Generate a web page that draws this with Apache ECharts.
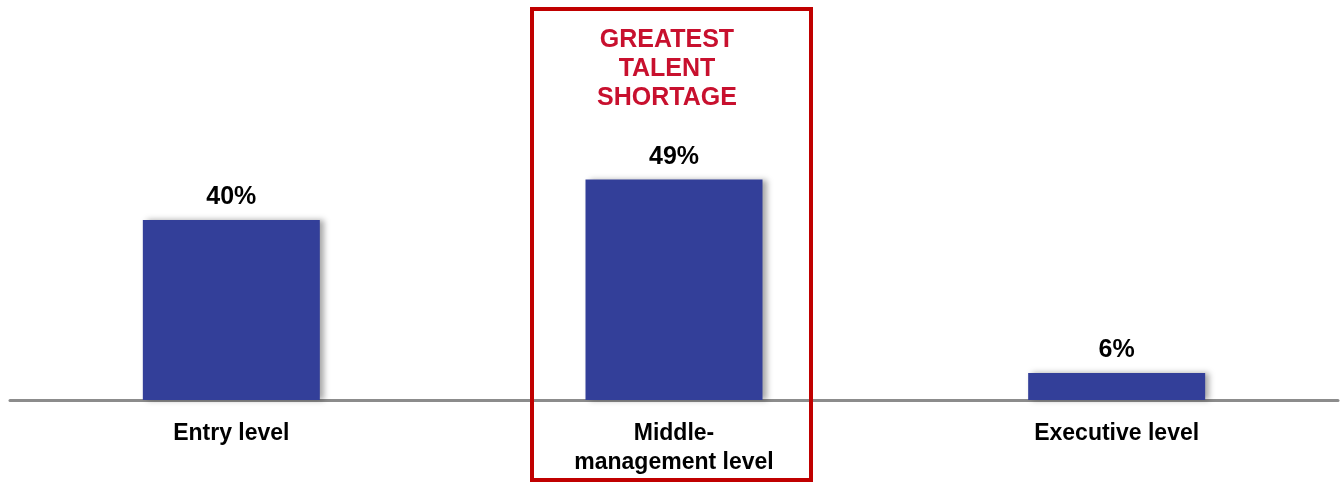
<!DOCTYPE html>
<html>
<head>
<meta charset="utf-8">
<script src="https://cdn.jsdelivr.net/npm/echarts@6/dist/echarts.min.js"></script>
<style>
  html, body { margin: 0; padding: 0; background: #fff; }
  #chart { width: 1341px; height: 484px; }
</style>
</head>
<body>
<div id="chart"></div>
<script>
// 数据
const levels = ['Entry level', 'Middle-\nmanagement level', 'Executive level'];
const shortage = [40, 49, 6];
const calloutText = 'GREATEST\nTALENT\nSHORTAGE';

const chart = echarts.init(document.getElementById('chart'));

const option = {
    animation: false,
    grid: {
        left: 10,
        right: 3,
        top: 40,
        bottom: 84
    },
    xAxis: {
        type: 'category',
        data: levels,
        axisLine: {
            lineStyle: { color: '#8c8c8c', width: 3 }
        },
        axisTick: { show: false },
        axisLabel: {
            margin: 19,
            color: '#000',
            fontFamily: 'Liberation Sans, Arial, sans-serif',
            fontWeight: 'bold',
            fontSize: 23,
            lineHeight: 29
        }
    },
    yAxis: {
        type: 'value',
        min: 0,
        max: 80,
        show: false,
        splitLine: { show: false }
    },
    series: [
        {
            type: 'bar',
            data: shortage,
            barWidth: 177,
            itemStyle: {
                color: '#333f99',
                shadowColor: 'rgba(0,0,0,0.35)',
                shadowBlur: 6,
                shadowOffsetX: 4
            },
            label: {
                show: true,
                position: 'top',
                distance: 10,
                formatter: '{c}%',
                color: '#000',
                fontFamily: 'Liberation Sans, Arial, sans-serif',
                fontWeight: 'bold',
                fontSize: 25
            }
        }
    ],
    graphic: [
        {
            type: 'rect',
            shape: { x: 532, y: 9, width: 279, height: 471 },
            style: { fill: 'none', stroke: '#c00000', lineWidth: 4 },
            z: 10
        },
        {
            type: 'text',
            x: 667,
            y: 26,
            style: {
                text: calloutText,
                align: 'center',
                verticalAlign: 'top',
                fill: '#c8102e',
                fontFamily: 'Liberation Sans, Arial, sans-serif',
                fontWeight: 'bold',
                fontSize: 25,
                lineHeight: 29
            },
            z: 10
        }
    ]
};

chart.setOption(option);

window.addEventListener('resize', () => {
    chart.resize();
});
</script>
</body>
</html>
